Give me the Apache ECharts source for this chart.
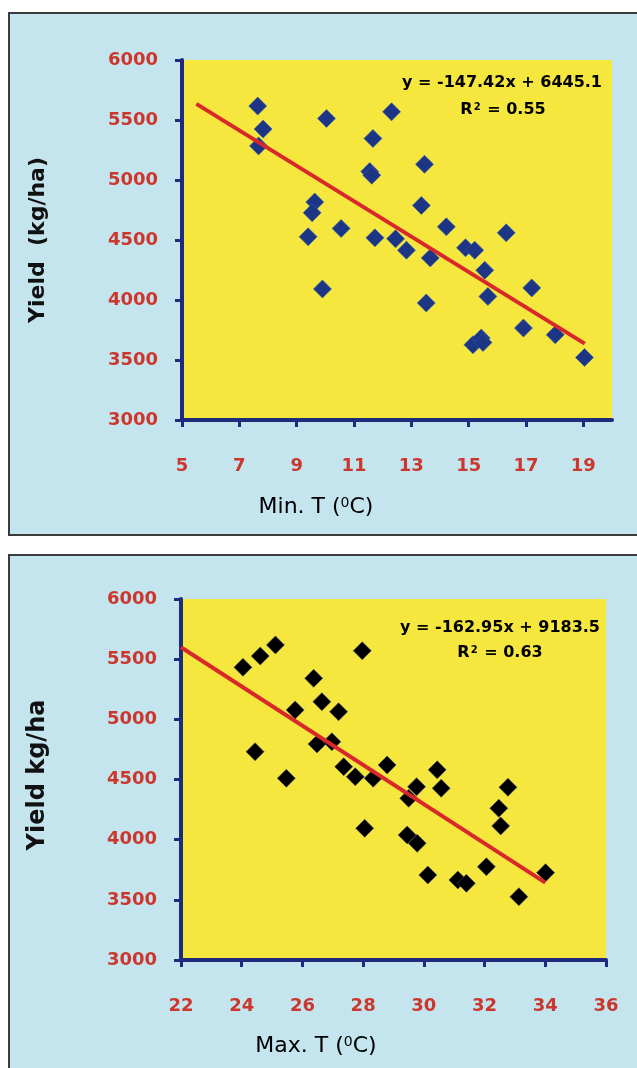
<!DOCTYPE html>
<html><head><meta charset="utf-8">
<script src="https://cdn.jsdelivr.net/npm/echarts@6/dist/echarts.min.js"></script>
<style>html,body{margin:0;padding:0;background:#fff}#c{width:637px;height:1068px}</style>
</head><body><div id="c"></div><script>
// Yield against minimum temperature (upper panel)
const minTemp  = [7.64, 7.83, 7.67, 10.04, 12.31, 11.66, 13.46, 11.55, 11.62, 9.63, 9.54, 13.35,
                  9.40, 10.55, 11.73, 12.45, 12.83, 13.66, 14.22, 14.89, 15.21, 16.31, 15.56, 15.67,
                  9.90, 13.52, 17.20, 16.91, 18.02, 15.15, 15.44, 15.50, 19.04];
const minYield = [5616, 5424, 5284, 5513, 5568, 5346, 5131, 5070, 5040, 4816, 4727, 4788,
                  4527, 4596, 4518, 4510, 4415, 4351, 4610, 4435, 4415, 4560, 4248, 4030,
                  4092, 3975, 4101, 3766, 3710, 3627, 3683, 3646, 3521];
// Yield against maximum temperature (lower panel)
const maxTemp  = [24.04, 24.61, 25.11, 27.97, 26.37, 26.64, 27.19, 25.76, 24.44, 26.48, 26.97,
                  27.36, 28.79, 30.44, 25.47, 27.74, 28.33, 29.76, 29.50, 30.57, 32.77, 32.47,
                  32.53, 28.05, 29.45, 29.78, 30.13, 31.12, 31.40, 32.06, 34.01, 33.13];
const maxYield = [5432, 5526, 5618, 5570, 5341, 5147, 5063, 5078, 4731, 4795, 4814,
                  4606, 4621, 4580, 4510, 4523, 4510, 4440, 4344, 4427, 4435, 4261,
                  4114, 4094, 4039, 3970, 3706, 3665, 3637, 3775, 3726, 3526];

const minTicks   = [5, 7, 9, 11, 13, 15, 17, 19];
const maxTicks   = [22, 24, 26, 28, 30, 32, 34, 36];
const yieldTicks = [3000, 3500, 4000, 4500, 5000, 5500, 6000];

// Fitted linear trends
const minFit = { slope: -147.42, intercept: 6445.1, r2: '0.55', from: 5.5, to: 19.05 };
const maxFit = { slope: -162.95, intercept: 9183.5, r2: '0.63', from: 22, to: 34 };

const AXIS = '#1f2b7c';
const RED = '#cc372d';
const FONT = '"DejaVu Sans", Verdana, sans-serif';

function fitLine(f) {
  return [f.from, f.to].map(x => [x, f.slope * x + f.intercept]);
}
function fmt(n) { return (n < 0 ? '-' : '') + Math.abs(n); }

function xAxis(idx, ticks, max) {
  return {
    type: 'value', gridIndex: idx, min: ticks[0], max: max, interval: 2,
    axisLine: { onZero: false, lineStyle: { color: AXIS, width: 4 } },
    axisTick: { show: true, length: 7, lineStyle: { color: AXIS, width: 3 }, customValues: ticks },
    axisLabel: { color: RED, fontSize: 18, fontWeight: 'bold', fontFamily: FONT, margin: 37,
                 customValues: ticks, formatter: v => String(v) },
    splitLine: { show: false }
  };
}
function yAxis(idx) {
  return {
    type: 'value', gridIndex: idx, min: yieldTicks[0], max: yieldTicks[yieldTicks.length - 1], interval: 500,
    axisLine: { lineStyle: { color: AXIS, width: 4 } },
    axisTick: { show: true, length: 7, lineStyle: { color: AXIS, width: 3 } },
    axisLabel: { color: RED, fontSize: 18, fontWeight: 'bold', fontFamily: FONT, margin: 24,
                 formatter: v => String(v) },
    splitLine: { show: false }
  };
}
const supRich = {
  a: { fontSize: 22, fontFamily: FONT, color: '#111' },
  s: { fontSize: 14, fontFamily: FONT, color: '#111', verticalAlign: 'top', padding: [0, 0, 8, 0] },
  b: { fontSize: 16, fontFamily: FONT, color: '#111', fontWeight: 'bold' },
  bs: { fontSize: 10, fontFamily: FONT, color: '#111', fontWeight: 'bold', verticalAlign: 'top', padding: [0, 1, 6, 1] }
};
function txt(x, y, text, extra, rot) {
  return { type: 'text', x: x, y: y, z: 50, rotation: rot || 0,
    style: Object.assign({ text: text, align: 'center', verticalAlign: 'middle', rich: supRich }, extra || {}) };
}
const nameStyle = { fontSize: 22, fontWeight: 'bold', fontFamily: FONT, fill: '#111' };

const chart = echarts.init(document.getElementById('c'), null, { renderer: 'canvas' });
chart.setOption({
  animation: false,
  backgroundColor: '#ffffff',
  graphic: [
    { type: 'rect', z: -10, shape: { x: 9, y: 13, width: 640, height: 522 },
      style: { fill: '#c4e4ee', stroke: '#3b3b3b', lineWidth: 2 } },
    { type: 'rect', z: -10, shape: { x: 9, y: 555, width: 640, height: 530 },
      style: { fill: '#c4e4ee', stroke: '#3b3b3b', lineWidth: 2 } },
    txt(38, 240, 'Yield  (kg/ha)', nameStyle, Math.PI / 2),
    txt(38, 775, 'Yield kg/ha', Object.assign({}, nameStyle, { fontSize: 24 }), Math.PI / 2),
    txt(316, 507, '{a|Min. T (}{s|0}{a|C)}'),
    txt(316, 1046, '{a|Max. T (}{s|0}{a|C)}'),
    txt(502, 83, '{b|y = ' + fmt(minFit.slope) + 'x + ' + minFit.intercept + '}'),
    txt(503, 110, '{b|R}{bs|2}{b| = ' + minFit.r2 + '}'),
    txt(500, 628, '{b|y = ' + fmt(maxFit.slope) + 'x + ' + maxFit.intercept + '}'),
    txt(500, 653, '{b|R}{bs|2}{b| = ' + maxFit.r2 + '}')
  ],
  grid: [
    { left: 182, top: 60, width: 430, height: 360, show: true, backgroundColor: '#f6e73f', borderWidth: 0 },
    { left: 181, top: 599, width: 425, height: 361, show: true, backgroundColor: '#f6e73f', borderWidth: 0 }
  ],
  xAxis: [xAxis(0, minTicks, 20), xAxis(1, maxTicks, 36)],
  yAxis: [yAxis(0), yAxis(1)],
  series: [
    { type: 'scatter', xAxisIndex: 0, yAxisIndex: 0, symbol: 'diamond', symbolSize: 18,
      itemStyle: { color: '#1d3585', opacity: 1, borderColor: '#2f5bb5', borderWidth: 0.6 },
      data: minTemp.map((x, i) => [x, minYield[i]]) },
    { type: 'line', xAxisIndex: 0, yAxisIndex: 0, showSymbol: false, z: 5,
      lineStyle: { color: '#d8282a', width: 4 }, data: fitLine(minFit) },
    { type: 'scatter', xAxisIndex: 1, yAxisIndex: 1, symbol: 'diamond', symbolSize: 18,
      itemStyle: { color: '#000000', opacity: 1, borderColor: '#4a4a70', borderWidth: 0.6 },
      data: maxTemp.map((x, i) => [x, maxYield[i]]) },
    { type: 'line', xAxisIndex: 1, yAxisIndex: 1, showSymbol: false, z: 5,
      lineStyle: { color: '#d8282a', width: 4 }, data: fitLine(maxFit) }
  ]
});
</script></body></html>
